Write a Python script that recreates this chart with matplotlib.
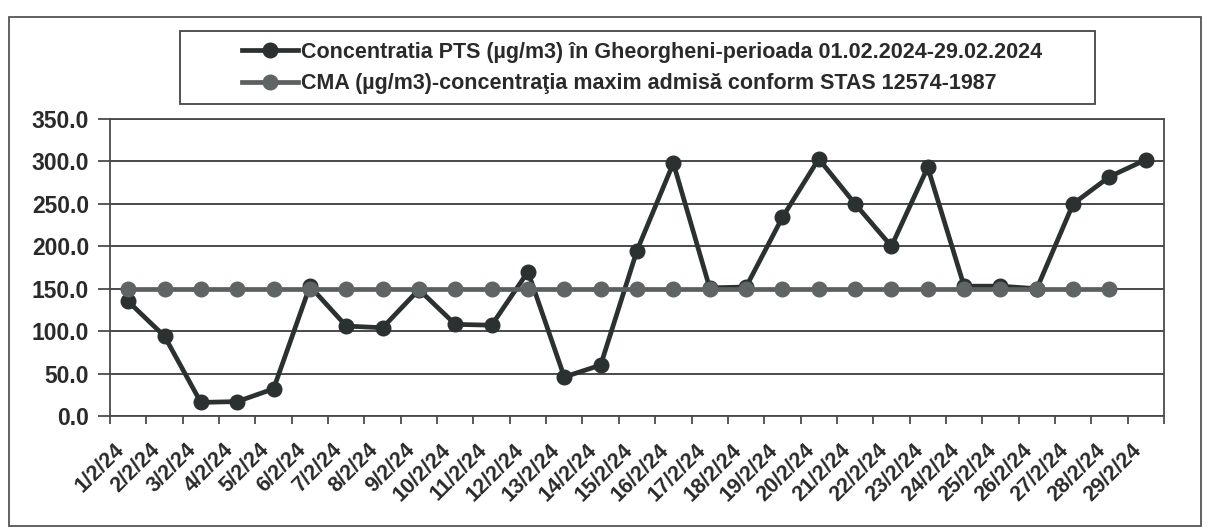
import numpy as np
import matplotlib
matplotlib.use("Agg")
from matplotlib import pyplot as plt
from matplotlib.patches import Rectangle

plt.rcParams['font.family'] = ['Liberation Sans', 'DejaVu Sans']
plt.rcParams['font.weight'] = 'bold'

dates = ['1/2/24', '2/2/24', '3/2/24', '4/2/24', '5/2/24', '6/2/24', '7/2/24',
         '8/2/24', '9/2/24', '10/2/24', '11/2/24', '12/2/24', '13/2/24',
         '14/2/24', '15/2/24', '16/2/24', '17/2/24', '18/2/24', '19/2/24',
         '20/2/24', '21/2/24', '22/2/24', '23/2/24', '24/2/24', '25/2/24',
         '26/2/24', '27/2/24', '28/2/24', '29/2/24']

pts = [135, 94, 16, 17, 32, 153, 106, 104, 149, 108, 107, 170, 46, 60, 195,
       298, 151, 152, 234, 303, 250, 200, 293, 153, 153, 150, 250, 282, 302]

cma = [150, 150, 150, 150, 150, 150, 150, 150, 150, 150, 150, 150, 150, 150,
       150, 150, 150, 150, 150, 150, 150, 150, 150, 150, 150, 150, 150, 150]

label_pts = 'Concentratia PTS (µg/m3) în Gheorgheni-perioada 01.02.2024-29.02.2024'
label_cma = 'CMA (µg/m3)-concentraţia maxim admisă conform STAS 12574-1987'

TXT = '#2a2a2a'
W, H = 1208, 528

fig = plt.figure(figsize=(W / 100, H / 100), dpi=100)
ax = fig.add_axes([110 / W, 1 - 416 / H, (1164 - 110) / W, (416 - 119) / H])

x_pts = np.arange(len(pts))
x_cma = np.arange(len(cma))
l1, = ax.plot(x_pts, pts, color='#2b3030', lw=3.4, marker='o', ms=10.5,
              markerfacecolor='#2b3030', markeredgecolor='#2b3030', zorder=3)
l2, = ax.plot(x_cma, cma, color='#5a5f5f', lw=3.4, marker='o', ms=10.5,
              markerfacecolor='#5f6464', markeredgecolor='#5f6464', zorder=4)

ax.set_xlim(-0.5, len(dates) - 0.5)
ax.set_ylim(0, 350)
ax.set_yticks(np.arange(0, 351, 50))
ax.set_yticklabels(['%.1f' % v for v in np.arange(0, 351, 50)],
                   fontsize=16.5, fontweight='bold', color=TXT)
ax.yaxis.grid(True, color='#3c3c3c', lw=1.3)
ax.set_axisbelow(True)

# tick marks between categories, labels on the categories
ax.set_xticks(np.arange(-0.5, len(dates), 1))
ax.set_xticklabels([])
ax.set_xticks(x_pts, minor=True)
ax.set_xticklabels(dates, minor=True, rotation=45, ha='right',
                   fontsize=15.5, fontweight='bold', color=TXT)
ax.tick_params(axis='x', which='major', length=6, width=1.2, color='#3c3c3c')
ax.tick_params(axis='x', which='minor', length=0, pad=17)
ax.tick_params(axis='y', length=9, width=1.2, color='#3c3c3c', pad=6)

for s in ax.spines.values():
    s.set_color('#4a4a4a')
    s.set_linewidth(1.3)

# outer chart border
fig.patches.append(Rectangle((9 / W, 1 - 526 / H), (1201 - 9) / W, (526 - 17) / H,
                             transform=fig.transFigure, fill=False,
                             edgecolor='#555555', lw=1.3))
# legend box
fig.patches.append(Rectangle((180 / W, 1 - 104 / H), (1095 - 180) / W, (104 - 31) / H,
                             transform=fig.transFigure, fill=False,
                             edgecolor='#444444', lw=1.3))

fig.legend([l1, l2], [label_pts, label_cma], loc='center',
           bbox_to_anchor=(642 / W, 1 - 68 / H), frameon=False,
           handlelength=2.6, handletextpad=0.1,
           labelspacing=0.5, labelcolor=TXT, prop={'weight': 'bold', 'size': 15.5})

fig.savefig('out.png', dpi=100)
